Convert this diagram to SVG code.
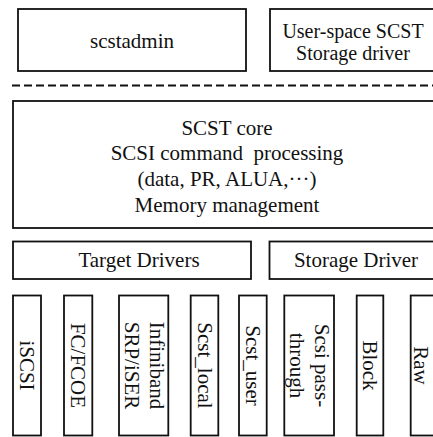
<svg xmlns="http://www.w3.org/2000/svg" width="433" height="437" viewBox="0 0 433 437">
<style>
rect{fill:#fff;stroke:#111;stroke-width:1.8}
text{font-family:"Liberation Serif","Times New Roman",serif;font-size:21px;fill:#111;text-anchor:middle}
.sm{font-size:20px}
.dash{stroke:#111;stroke-width:1.8;stroke-dasharray:8 4;fill:none}
</style>
<rect x="0" y="0" width="433" height="437" style="stroke:none"/>
<g id="scstadmin"><rect x="18" y="9" width="228" height="62"/><text x="132" y="48">scstadmin</text></g>
<g id="userspace"><rect x="270" y="9" width="170" height="62"/><text class="sm" x="353" y="38">User-space SCST</text><text class="sm" x="353" y="60">Storage driver</text></g>
<g id="connectors"><line class="dash" x1="12" y1="85.5" x2="433" y2="85.5"/></g>
<g id="core"><rect x="13" y="101" width="430" height="127"/>
<text x="227" y="135">SCST core</text>
<text x="227" y="160" xml:space="preserve">SCSI command  processing</text>
<text x="227" y="186">(data, PR, ALUA,···)</text>
<text x="227" y="212">Memory management</text></g>
<g id="target"><rect x="13" y="241.5" width="238" height="37.5"/><text x="139" y="267">Target Drivers</text></g>
<g id="storage"><rect x="269.5" y="241.5" width="175" height="37.5"/><text x="356" y="267">Storage Driver</text></g>
<g id="iscsi"><rect x="13" y="295.5" width="28" height="140"/><text transform="translate(27,365.5) rotate(90)" y="7">iSCSI</text></g>
<g id="fc"><rect x="64" y="295.5" width="28.3" height="140"/><text transform="translate(78,365.5) rotate(90)" y="7">FC/FCOE</text></g>
<g id="ib"><rect x="119" y="295.5" width="49.3" height="140"/><text transform="translate(144,365.5) rotate(90)" y="7"><tspan x="0" dy="-12.5">Infiniband</tspan><tspan x="0" dy="25">SRP/iSER</tspan></text></g>
<g id="local"><rect x="190.7" y="295.5" width="27.6" height="140"/><text transform="translate(204.5,365.5) rotate(90)" y="7">Scst_local</text></g>
<g id="user"><rect x="239" y="295.5" width="27.7" height="140"/><text transform="translate(253,365.5) rotate(90)" y="7">Scst_user</text></g>
<g id="pass"><rect x="284.3" y="295.5" width="49.7" height="140"/><text transform="translate(309.5,365.5) rotate(90)" y="7"><tspan x="0" dy="-12.5">Scsi pass-</tspan><tspan x="0" dy="25">through</tspan></text></g>
<g id="block"><rect x="356.7" y="295.5" width="26.6" height="140"/><text transform="translate(370,365.5) rotate(90)" y="7">Block</text></g>
<g id="raw"><rect x="410.7" y="295.5" width="30" height="140"/><text transform="translate(421,365.5) rotate(90)" y="7">Raw</text></g>
</svg>
